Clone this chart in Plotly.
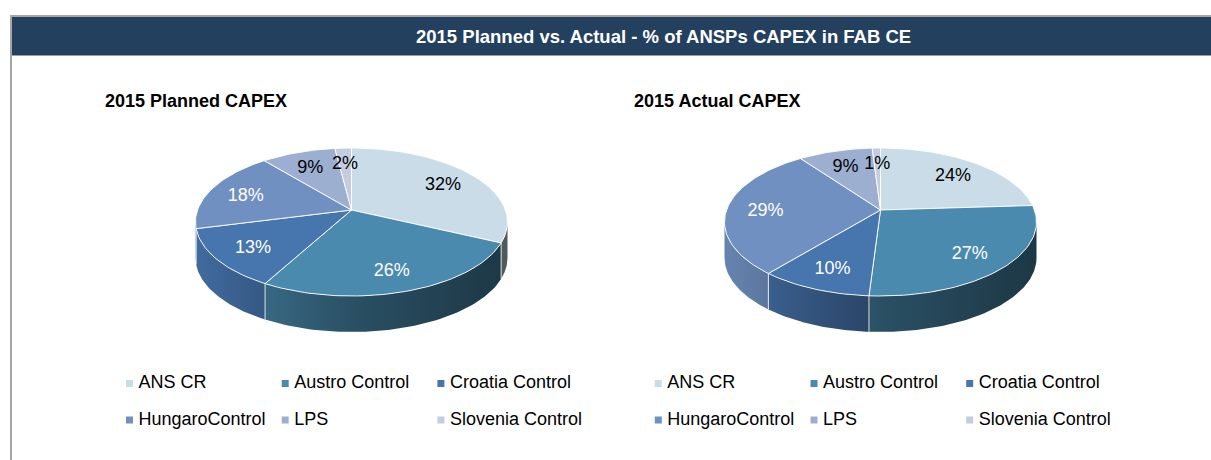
import numpy as np
import plotly.graph_objects as go

# ---------------- data ----------------
categories = ["ANS CR", "Austro Control", "Croatia Control",
              "HungaroControl", "LPS", "Slovenia Control"]
planned_pct = [32, 26, 13, 18, 9, 2]
actual_pct = [24, 27, 10, 29, 9, 1]
pie_titles = ["2015 Planned CAPEX", "2015 Actual CAPEX"]
main_title = "2015 Planned vs. Actual - % of ANSPs CAPEX in FAB CE"

# ---------------- style ----------------
slice_colors = ["#C9DCE7", "#4A8AAE", "#4775AD", "#7090C1", "#9CAFD1", "#C3CCE0"]
label_font_colors = ["#000000", "#FFFFFF", "#FFFFFF", "#FFFFFF", "#000000", "#000000"]
FONT = "Liberation Sans, Arial, sans-serif"
W, H = 1211, 460

PIE_CX = [351.5, 880.5]
APEX_Y = 210.0     # projected centre of the pie
TOP_Y = 148.0      # far rim
FRONT_Y = 296.0    # near rim
DEPTH = 36.0
RX = 156.0
LABEL_R = 0.75
LABEL_DY = 3.0

ratio = (FRONT_Y - APEX_Y) / (APEX_Y - TOP_Y)
K = (ratio - 1) / (ratio + 1)
B = (APEX_Y - TOP_Y) * (1 + K)
A = RX * np.sqrt(1 - K ** 2)
TH_LO = np.arccos(-K)
TH_HI = 2 * np.pi - TH_LO


def project(cx, r, th):
    X = r * np.sin(th)
    Z = r * np.cos(th)
    w = 1 + K * Z
    return cx + A * X / w, APEX_Y - B * Z / w


def shade(hexc, f):
    h = hexc.lstrip("#")
    r, g, b = (int(h[i:i + 2], 16) for i in (0, 2, 4))
    return "rgb(%d,%d,%d)" % (r * f, g * f, b * f)


fig = go.Figure()

for p, values in enumerate([planned_pct, actual_pct]):
    cx = PIE_CX[p]
    total = float(sum(values))
    cum = np.concatenate([[0], np.cumsum(values)]) / total * 2 * np.pi

    # sides
    for i, v in enumerate(values):
        a0, a1 = cum[i], cum[i + 1]
        lo, hi = max(a0, TH_LO), min(a1, TH_HI)
        if hi <= lo:
            continue
        th = np.linspace(lo, hi, 80)
        xs, ys = project(cx, 1.0, th)
        px = np.concatenate([xs, xs[::-1], xs[:1]])
        py = np.concatenate([ys, (ys + DEPTH)[::-1], ys[:1]])
        c = slice_colors[i]
        fig.add_trace(go.Scatter(
            x=px, y=py, mode="lines", fill="toself",
            line=dict(width=0, color=shade(c, 0.6)),
            fillgradient=dict(type="horizontal", start=cx - RX, stop=cx + RX,
                              colorscale=[[0, shade(c, 0.92)], [0.25, shade(c, 0.74)],
                                          [0.5, shade(c, 0.58)], [1, shade(c, 0.40)]]),
            hoverinfo="skip", showlegend=False))

    # white edges on the side between slices
    ex, ey = [], []
    for a in cum[1:-1]:
        if TH_LO < a < TH_HI:
            x0, y0 = project(cx, 1.0, a)
            ex += [x0, x0, None]
            ey += [y0, y0 + DEPTH, None]
    if ex:
        fig.add_trace(go.Scatter(x=ex, y=ey, mode="lines",
                                 line=dict(color="rgba(255,255,255,0.8)", width=1),
                                 hoverinfo="skip", showlegend=False))

    # top faces
    for i, v in enumerate(values):
        a0, a1 = cum[i], cum[i + 1]
        n = max(3, int((a1 - a0) / (2 * np.pi) * 240))
        th = np.linspace(a0, a1, n)
        xs, ys = project(cx, 1.0, th)
        px = np.concatenate([[cx], xs, [cx]])
        py = np.concatenate([[APEX_Y], ys, [APEX_Y]])
        fig.add_trace(go.Scatter(
            x=px, y=py, mode="lines", fill="toself",
            fillcolor=slice_colors[i],
            line=dict(color="rgba(255,255,255,0.9)", width=1),
            hoverinfo="skip", showlegend=False))

    # data labels
    mids = (cum[:-1] + cum[1:]) / 2
    lx, ly = project(cx, LABEL_R, mids)
    fig.add_trace(go.Scatter(
        x=lx, y=ly + LABEL_DY, mode="text",
        text=["%d%%" % v for v in values],
        textposition="middle center",
        textfont=dict(family=FONT, size=18, color=label_font_colors),
        hoverinfo="skip", showlegend=False))

    # legend (custom, 3 columns x 2 rows)
    col = np.arange(len(categories)) % 3
    row = np.arange(len(categories)) // 3
    mx = 129.5 + p * 528.8 + col * 155.7
    my = 383.5 + row * 36.5
    fig.add_trace(go.Scatter(
        x=mx, y=my, mode="markers",
        marker=dict(symbol="square", size=7, color=slice_colors, line=dict(width=0)),
        hoverinfo="skip", showlegend=False))
    fig.add_trace(go.Scatter(
        x=mx + 9, y=my, mode="text", text=categories,
        textposition="middle right",
        textfont=dict(family=FONT, size=18, color="#000000"),
        hoverinfo="skip", showlegend=False))

# header / frame
shapes = [
    dict(type="rect", xref="x", yref="y", x0=12, x1=W + 2, y0=17, y1=55.5,
         fillcolor="#24405F", line=dict(width=0), layer="below"),
    dict(type="line", xref="x", yref="y", x0=10, x1=W + 2, y0=16, y1=16,
         line=dict(color="#A6A6A6", width=2)),
    dict(type="line", xref="x", yref="y", x0=11, x1=11, y0=15, y1=H + 2,
         line=dict(color="#A6A6A6", width=2)),
]

annotations = [
    dict(x=663, y=36, xref="x", yref="y", text="<b>%s</b>" % main_title,
         showarrow=False, xanchor="center", yanchor="middle",
         font=dict(family=FONT, size=18.5, color="#FFFFFF")),
]
for p, t in enumerate(pie_titles):
    annotations.append(dict(
        x=102.5 + p * 529, y=100.5, xref="x", yref="y", text="<b>%s</b>" % t,
        showarrow=False, xanchor="left", yanchor="middle",
        font=dict(family=FONT, size=18, color="#000000")))

fig.update_layout(
    width=W, height=H,
    margin=dict(l=0, r=0, t=0, b=0),
    paper_bgcolor="#FFFFFF", plot_bgcolor="#FFFFFF",
    xaxis=dict(range=[0, W], visible=False, fixedrange=True),
    yaxis=dict(range=[H, 0], visible=False, fixedrange=True),
    shapes=shapes, annotations=annotations,
    showlegend=False, hovermode=False,
)

fig.write_html("out.html",
               config={"displayModeBar": False, "staticPlot": True},
               post_script="document.body.style.margin='0px';"
                           "document.body.style.overflow='hidden';")
